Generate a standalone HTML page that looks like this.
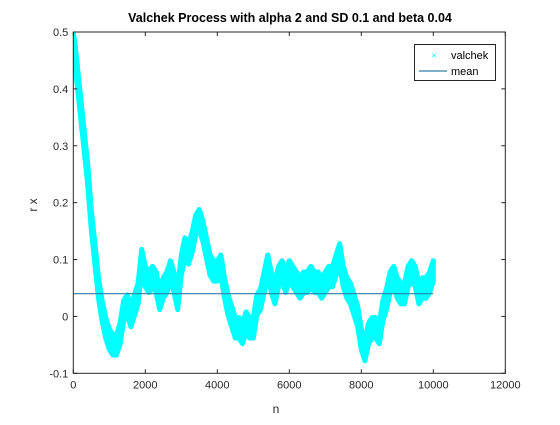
<!DOCTYPE html>
<html><head><meta charset="utf-8"><style>
body{margin:0;background:#fff;}
svg text{font-family:"Liberation Sans",Arial,sans-serif;}
</style></head><body>
<svg id="chart" width="560" height="420" xmlns="http://www.w3.org/2000/svg">
<defs><clipPath id="clip"><rect x="73.3" y="32" width="432" height="341.3"/></clipPath></defs>
<rect x="0" y="0" width="560" height="420" fill="#fff"/>
<text x="290" y="22" text-anchor="middle" font-size="12.5" font-weight="bold" fill="#000">Valchek Process with alpha 2 and SD 0.1 and beta 0.04</text>
<g id="plot" clip-path="url(#clip)"></g>
<g id="axes"></g>
<text x="276" y="413" text-anchor="middle" font-size="12" fill="#262626">n</text>
<text transform="translate(37,205) rotate(-90)" text-anchor="middle" font-size="12" fill="#262626">r x</text>
<g>
<rect x="414.5" y="44.5" width="81" height="36" fill="#fff" stroke="#262626" stroke-width="1"/>
<text x="434" y="58.5" text-anchor="middle" font-size="9" fill="#00ffff">×</text>
<text x="451" y="59" font-size="11" fill="#000">valchek</text>
<line x1="419" y1="71" x2="447" y2="71" stroke="#2f7ea4" stroke-width="1.2"/>
<text x="451" y="75" font-size="11" fill="#000">mean</text>
</g>
</svg>
<script>
const xTicks=[0,2000,4000,6000,8000,10000,12000];
const yTicks=[-0.1,0,0.1,0.2,0.3,0.4,0.5];
const yTickLabels=["-0.1","0","0.1","0.2","0.3","0.4","0.5"];
const nVals=[0,50,100,200,300,400,500,600,700,800,900,1000,1100,1200,1300,1400,1500,1600,1700,1800,1900,2000,2100,2200,2300,2400,2500,2600,2700,2800,2900,3000,3100,3200,3300,3400,3500,3600,3700,3800,3900,4000,4100,4200,4300,4400,4500,4600,4700,4800,4900,5000,5100,5200,5300,5400,5500,5600,5700,5800,5900,6000,6100,6200,6300,6400,6500,6600,6700,6800,6900,7000,7100,7200,7300,7400,7500,7600,7700,7800,7900,8000,8100,8200,8300,8400,8500,8600,8700,8800,8900,9000,9100,9200,9300,9400,9500,9600,9700,9800,9900,10000];
const rVals=[0.48,0.46,0.43,0.37,0.31,0.25,0.17,0.11,0.05,0.01,-0.02,-0.04,-0.05,-0.05,-0.03,0.01,0.02,0.0,0.02,0.04,0.10,0.07,0.06,0.07,0.06,0.03,0.05,0.06,0.08,0.06,0.03,0.09,0.12,0.11,0.13,0.16,0.17,0.15,0.12,0.09,0.08,0.08,0.09,0.05,0.02,0.0,-0.02,-0.02,-0.03,-0.01,-0.02,-0.02,0.02,0.03,0.06,0.09,0.06,0.04,0.07,0.08,0.06,0.08,0.07,0.06,0.05,0.06,0.06,0.07,0.06,0.06,0.05,0.06,0.07,0.07,0.09,0.11,0.07,0.05,0.04,0.02,0.0,-0.04,-0.06,-0.03,-0.02,-0.02,-0.03,0.01,0.03,0.06,0.07,0.05,0.04,0.04,0.07,0.08,0.07,0.04,0.05,0.05,0.06,0.08,0.1];
const bandHalf=0.018;
const meanVal=0.04;
const L=73.3,R=505.3,T=32,B=373.3;
const xs=v=>L+(v-0)/(12000-0)*(R-L);
const ys=v=>B-(v+0.1)/(0.6)*(B-T);
const NS="http://www.w3.org/2000/svg";
function mk(tag,attrs,parent){const e=document.createElementNS(NS,tag);for(const k in attrs)e.setAttribute(k,attrs[k]);parent.appendChild(e);return e;}
const plot=document.getElementById('plot'),axes=document.getElementById('axes');
const up=nVals.map((n,i)=>xs(n).toFixed(1)+","+ys(rVals[i]+bandHalf).toFixed(1));
const lo=nVals.map((n,i)=>xs(n).toFixed(1)+","+ys(rVals[i]-bandHalf).toFixed(1)).reverse();
const band=mk('polygon',{points:up.concat(lo).join(" "),fill:'#00ffff',stroke:'#00ffff','stroke-width':5,'stroke-linejoin':'round'},plot);


const ml=mk('line',{x1:xs(0),x2:xs(10000),y1:ys(meanVal),y2:ys(meanVal),stroke:'#2f7ea4','stroke-width':1.2},plot);


const box=mk('rect',{x:L,y:T,width:R-L,height:B-T,fill:'none',stroke:'#262626','stroke-width':1},axes);


xTicks.forEach(t=>{const x=xs(t);
 const a=mk('line',{x1:x,x2:x,y1:B,y2:B-4,stroke:'#262626'},axes);
 const b=mk('line',{x1:x,x2:x,y1:T,y2:T+4,stroke:'#262626'},axes);
 const tx=mk('text',{x:x,y:B+15,'text-anchor':'middle','font-size':11,fill:'#262626'},axes);tx.textContent=t;
 });
yTicks.forEach((t,i)=>{const y=ys(t);
 const a=mk('line',{x1:L,x2:L+4,y1:y,y2:y,stroke:'#262626'},axes);
 const b=mk('line',{x1:R,x2:R-4,y1:y,y2:y,stroke:'#262626'},axes);
 const tx=mk('text',{x:L-5,y:y+4,'text-anchor':'end','font-size':11,fill:'#262626'},axes);tx.textContent=yTickLabels[i];
 });
</script>
</body></html>
